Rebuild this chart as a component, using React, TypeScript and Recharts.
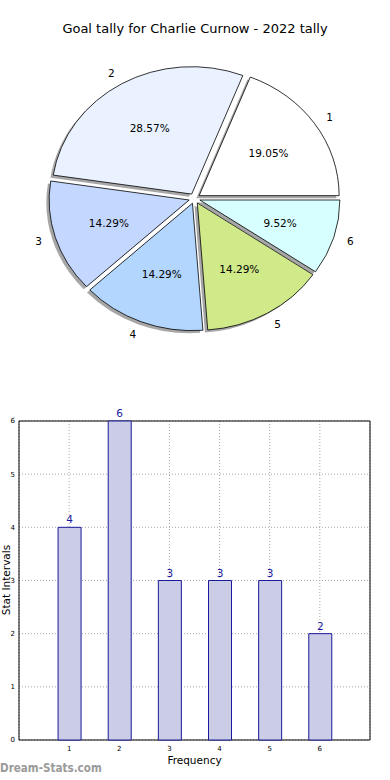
import { Bar, BarChart, CartesianGrid, LabelList, Pie, PieChart, ReferenceArea, XAxis, YAxis } from 'recharts';

const categories = ['1', '2', '3', '4', '5', '6'];
const tallies = [4, 6, 3, 3, 3, 2];
const sliceColors = ['#ffffff', '#eaf2ff', '#c4d8ff', '#b3d6ff', '#d0ea8a', '#d8ffff'];
const yTicks = [0, 1, 2, 3, 4, 5, 6];
const xTicks = [1, 2, 3, 4, 5, 6];

const font = '"DejaVu Sans", sans-serif';
const RAD = Math.PI / 180;
const ASPECT = 0.91; // the pie is drawn as an ellipse, like the stretched original
const EXPLODE = 0.04;

const pieData = categories.map((name, i) => ({ name, value: tallies[i], fill: sliceColors[i] }));
const barData = categories.map((name, i) => ({ x: Number(name), value: tallies[i] }));

function wedgePath(cx: number, cy: number, rx: number, ry: number, a0: number, a1: number) {
  const x0 = cx + rx * Math.cos(a0 * RAD);
  const y0 = cy - ry * Math.sin(a0 * RAD);
  const x1 = cx + rx * Math.cos(a1 * RAD);
  const y1 = cy - ry * Math.sin(a1 * RAD);
  const large = Math.abs(a1 - a0) > 180 ? 1 : 0;
  return `M${cx},${cy} L${x0},${y0} A${rx},${ry} 0 ${large} 0 ${x1},${y1} Z`;
}

function explodeOffset(r: number, mid: number) {
  return { dx: EXPLODE * r * Math.cos(mid * RAD), dy: -EXPLODE * r * ASPECT * Math.sin(mid * RAD) };
}

function EllipseWedge(props: any) {
  const { cx, cy, outerRadius, startAngle, endAngle, fill } = props;
  const mid = (startAngle + endAngle) / 2;
  const { dx, dy } = explodeOffset(outerRadius, mid);
  const rx = outerRadius;
  const ry = outerRadius * ASPECT;
  const ox = cx + dx;
  const oy = cy + dy;
  return (
    <g>
      <path d={wedgePath(ox - 0.02 * rx, oy + 0.02 * ry, rx, ry, startAngle, endAngle)} fill="#4d4d4d" fillOpacity={0.5} stroke="none" />
      <path d={wedgePath(ox, oy, rx, ry, startAngle, endAngle)} fill={fill} stroke="#000" strokeWidth={0.8} />
    </g>
  );
}

function PieLabels(props: any) {
  const { cx, cy, outerRadius, midAngle, percent, name } = props;
  const { dx, dy } = explodeOffset(outerRadius, midAngle);
  const ox = cx + dx;
  const oy = cy + dy;
  const c = Math.cos(midAngle * RAD);
  const s = Math.sin(midAngle * RAD);
  const ry = outerRadius * ASPECT;
  return (
    <g fontFamily={font} fontSize={10.5} fill="#000">
      <text x={ox + 0.6 * outerRadius * c} y={oy - 0.6 * ry * s} textAnchor="middle" dominantBaseline="central">
        {(percent * 100).toFixed(2)}%
      </text>
      <text x={ox + 1.1 * outerRadius * c} y={oy - 1.1 * ry * s} textAnchor={c >= 0 ? 'start' : 'end'} dominantBaseline="central">
        {name}
      </text>
    </g>
  );
}

export default function App() {
  return (
    <div style={{ position: 'absolute', left: 0, top: 0, width: 390, height: 780, background: '#fff', fontFamily: font }}>
      <div style={{ position: 'absolute', top: 21, width: 390, textAlign: 'center', fontSize: 13 }}>
        Goal tally for Charlie Curnow - 2022 tally
      </div>
      <div style={{ position: 'absolute', top: 0, left: 0 }}>
        <PieChart width={390} height={380} margin={{ top: 0, right: 0, bottom: 0, left: 0 }}>
          <Pie
            data={pieData}
            dataKey="value"
            nameKey="name"
            cx={194.5}
            cy={198.5}
            outerRadius={140}
            startAngle={0}
            endAngle={360}
            paddingAngle={0}
            shape={EllipseWedge}
            label={PieLabels}
            labelLine={false}
            isAnimationActive={false}
          />
        </PieChart>
      </div>
      <div style={{ position: 'absolute', top: 400, left: 0 }}>
        <BarChart width={390} height={380} data={barData} margin={{ top: 21, right: 20, bottom: 10, left: 0 }}>
          <CartesianGrid stroke="#a8a8a8" strokeDasharray="1 2" />
          <XAxis
            dataKey="x"
            type="number"
            domain={[0, 7]}
            ticks={xTicks}
            height={30}
            tickSize={0}
            tickMargin={6}
            axisLine={false}
            tick={{ fontSize: 7, fill: '#000', fontFamily: font }}
            label={{ value: 'Frequency', position: 'insideBottom', offset: 6, fontSize: 10.5, fill: '#000', fontFamily: font }}
          />
          <YAxis
            type="number"
            domain={[0, 6]}
            ticks={yTicks}
            width={19}
            tickSize={0}
            tickMargin={4}
            axisLine={false}
            tick={{ fontSize: 7, fill: '#000', fontFamily: font }}
          />
          <Bar dataKey="value" barSize={23} fill="#cbcde6" stroke="#1a1a9a" strokeWidth={1} isAnimationActive={false}>
            <LabelList dataKey="value" position="top" offset={4} fill="#1a1aa0" fontSize={10.5} fontFamily={font} />
          </Bar>
          <ReferenceArea x1={0} x2={7} y1={0} y2={6} fill="none" stroke="#000" strokeWidth={1} ifOverflow="visible" />
        </BarChart>
      </div>
      <div
        style={{
          position: 'absolute',
          left: 6,
          top: 580,
          transform: 'translate(-50%, -50%) rotate(-90deg)',
          fontSize: 10.5,
          lineHeight: '11px',
          whiteSpace: 'nowrap',
        }}
      >
        Stat Intervals
      </div>
      <div
        style={{
          position: 'absolute',
          left: 0,
          top: 760,
          fontSize: 13,
          color: '#9a9a9a',
          fontWeight: 'bold',
          transform: 'scaleX(0.8)',
          transformOrigin: 'left center',
          whiteSpace: 'nowrap',
        }}
      >
        Dream-Stats.com
      </div>
    </div>
  );
}
